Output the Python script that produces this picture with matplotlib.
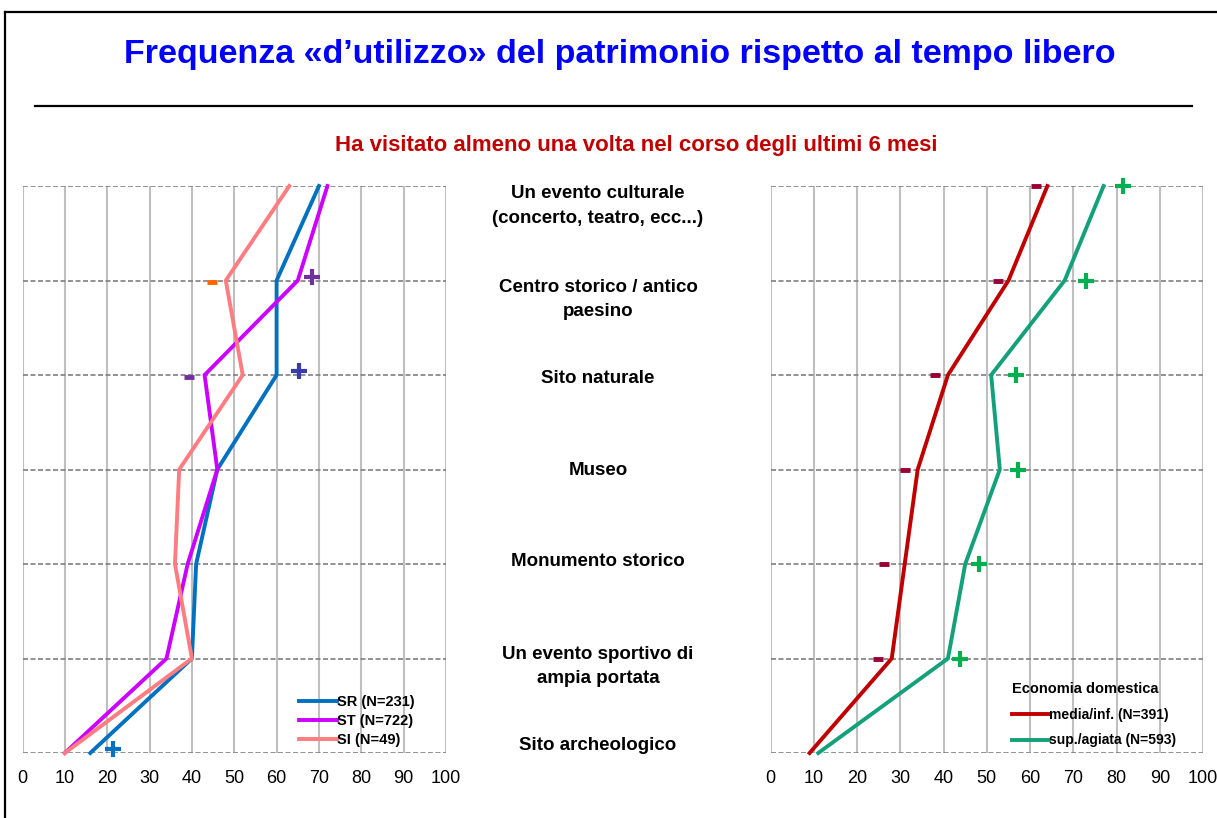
import numpy as np
import matplotlib
matplotlib.use("Agg")
import matplotlib.pyplot as plt
import matplotlib.transforms as mtransforms
from matplotlib.lines import Line2D

plt.rcParams['font.family'] = ['Liberation Sans', 'DejaVu Sans']

# categorie (dall'alto verso il basso)
categorie = [
    "Un evento culturale\n(concerto, teatro, ecc...)",
    "Centro storico / antico\npaesino",
    "Sito naturale",
    "Museo",
    "Monumento storico",
    "Un evento sportivo di\nampia portata",
    "Sito archeologico",
]

# pannello sinistro (%)
sr = [70, 60, 60, 46, 41, 40, 16]
st = [72, 65, 43, 46, 39, 34, 10]
si = [63, 48, 52, 37, 36, 40, 10]
etichette_sx = ["SR (N=231)", "ST (N=722)", "SI (N=49)"]

# segni di differenza significativa, pannello sinistro (indice riga, valore)
piu_sx = [(1, 68.4), (2, 65.3), (6, 21.4)]
piu_sx_col = ["#7030A0", "#3A3AB0", "#0070C0"]
meno_sx = [(1, 44.7), (2, 39.4)]
meno_sx_col = ["#FF6600", "#7030A0"]

# pannello destro (%)
media_inf = [64, 55, 41, 34, 31, 28, 9]
sup_agiata = [77, 68, 51, 53, 45, 41, 11]
etichette_dx = ["media/inf. (N=391)", "sup./agiata (N=593)"]

piu_dx = [81.6, 73.0, 56.8, 57.1, 48.1, 43.7, None]
meno_dx = [61.4, 52.5, 38.0, 31.0, 26.3, 24.8, None]

assi_x = [0, 10, 20, 30, 40, 50, 60, 70, 80, 90, 100]

W, H = 1217, 818
fig = plt.figure(figsize=(W / 100, H / 100), dpi=100)


def prepara(ax):
    ax.set_xlim(0, 100)
    ax.set_ylim(len(categorie) - 1, 0)
    ax.set_xticks(assi_x)
    ax.set_yticks(range(len(categorie)))
    ax.set_yticklabels([])
    for s in ax.spines.values():
        s.set_visible(False)
    ax.tick_params(length=0, pad=12)
    for lab in ax.get_xticklabels():
        lab.set_fontsize(13)
    ax.grid(axis='x', color='#BFBFBF', lw=1.5, zorder=0)
    ax.grid(axis='y', color='#7F7F7F', lw=1.2, ls=(0, (3, 1.5)), zorder=0)
    ax.set_axisbelow(True)


ypos = np.arange(len(categorie))

ax1 = fig.add_axes([22.5 / W, 1 - 753 / H, 423.5 / W, 567 / H])
prepara(ax1)
ax1.plot(sr, ypos, color='#0070C0', lw=2.8, label=etichette_sx[0], clip_on=False)
ax1.plot(st, ypos, color='#CC00FF', lw=2.8, label=etichette_sx[1], clip_on=False)
ax1.plot(si, ypos, color='#FF7C80', lw=2.8, label=etichette_sx[2], clip_on=False)
for (r, v), c in zip(piu_sx, piu_sx_col):
    ax1.plot(v, r - 0.04, marker='+', ms=11, mew=3, color=c, clip_on=False)
for (r, v), c in zip(meno_sx, meno_sx_col):
    ax1.plot(v, r + 0.02, marker='_', ms=7, mew=3.5, color=c, clip_on=False)
ax1.legend(loc='lower left', bbox_to_anchor=(0.64, 0.0), frameon=False,
           borderaxespad=0, handlelength=2.6, handletextpad=0.0, labelspacing=0.35,
           prop={'weight': 'bold', 'size': 10.5})

ax2 = fig.add_axes([770.7 / W, 1 - 753 / H, 432.3 / W, 567 / H])
prepara(ax2)
ax2.plot(media_inf, ypos, color='#C00000', lw=2.8, label=etichette_dx[0], clip_on=False)
ax2.plot(sup_agiata, ypos, color='#13A07A', lw=2.8, label=etichette_dx[1], clip_on=False)
for r in range(len(categorie)):
    if piu_dx[r] is not None:
        ax2.plot(piu_dx[r], r, marker='+', ms=11, mew=3, color='#00B050', clip_on=False)
    if meno_dx[r] is not None:
        ax2.plot(meno_dx[r], r, marker='_', ms=7, mew=3.5, color='#990033', clip_on=False)
ax2.legend(loc='lower left', bbox_to_anchor=(0.545, 0.0), frameon=False,
           borderaxespad=0, title="Economia domestica", alignment='left',
           handlelength=2.7, handletextpad=0.0, labelspacing=0.85,
           prop={'weight': 'bold', 'size': 10},
           title_fontproperties={'weight': 'bold', 'size': 10.5})

# etichette delle categorie al centro
trans = mtransforms.blended_transform_factory(fig.transFigure, ax1.transData)
spost = [-20, -19, -3, -1, 2, -8, 7]
for i, testo in enumerate(categorie):
    ax1.annotate(testo, xy=(598 / W, i), xycoords=trans, xytext=(0, spost[i]),
                 textcoords='offset pixels', ha='center', va='center',
                 fontsize=13.5, fontweight='bold', linespacing=1.6,
                 annotation_clip=False)

# titolo e sottotitolo
fig.text(620 / W, 1 - 55 / H, "Frequenza «d’utilizzo» del patrimonio rispetto al tempo libero",
         ha='center', va='center', fontsize=24.5, fontweight='bold', color='#0000FF')
fig.text(636 / W, 1 - 145 / H, "Ha visitato almeno una volta nel corso degli ultimi 6 mesi",
         ha='center', va='center', fontsize=16, fontweight='bold', color='#C00000')

# cornice e riga sotto il titolo
fig.add_artist(Line2D([35 / W, 1192 / W], [1 - 106 / H] * 2, color='black', lw=1.6))
fig.add_artist(Line2D([5 / W, 1], [1 - 12 / H] * 2, color='black', lw=1.6))
fig.add_artist(Line2D([5 / W, 5 / W], [0, 1 - 12 / H], color='black', lw=1.6))

fig.savefig("out.png", dpi=100)
